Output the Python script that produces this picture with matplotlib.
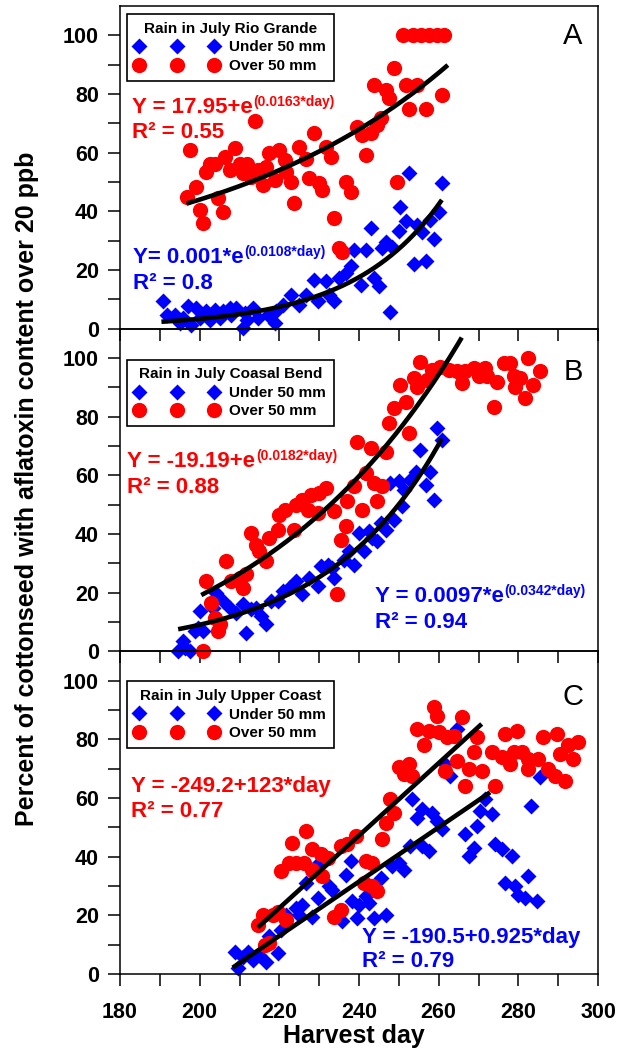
import numpy as np
import matplotlib
matplotlib.use('Agg')
import matplotlib.pyplot as plt
from matplotlib.ticker import MultipleLocator

plt.rcParams['font.family'] = ['Liberation Sans', 'DejaVu Sans']

BLUE = '#0000FF'
RED = '#FF0000'

# ---------------- Panel A : Rio Grande ----------------
a_under_day = [252.5, 260.8, 250.4, 251.7, 254.6, 257.9, 260.0, 255.8, 250.0, 258.8,
               242.9, 246.7, 245.8, 248.3, 238.8, 241.7, 253.8, 256.7, 237.9, 235.0,
               228.8, 231.7, 240.4, 243.8, 245.0, 247.9, 233.8, 232.5, 222.9, 226.7,
               225.0, 220.8, 219.2, 217.1, 213.3, 211.3, 210.8, 212.0, 214.6, 218.8,
               209.2, 207.5, 205.8, 203.8, 201.7, 199.2, 197.1, 190.8, 191.7, 193.8,
               195.0, 195.8, 197.9, 200.0, 202.5, 207.9, 205.0, 229.6, 236.7]
a_under_pct = [53.2, 49.8, 41.4, 36.8, 35.4, 37.1, 39.7, 33.1, 33.3, 30.6,
               34.2, 29.7, 27.4, 28.0, 26.9, 26.9, 22.1, 22.9, 21.2, 17.2,
               16.7, 16.1, 15.0, 17.2, 14.6, 5.6, 9.3, 11.6, 11.6, 11.6,
               8.2, 8.2, 5.9, 4.8, 7.0, 5.3, 0.2, 3.1, 3.6, 1.9,
               7.0, 7.0, 5.9, 6.5, 5.9, 7.0, 7.6, 9.3, 4.8, 4.8,
               1.9, 3.6, 1.4, 3.6, 3.1, 4.8, 3.6, 9.3, 18.9]
a_over_day = [251.0, 253.5, 255.5, 257.5, 259.5, 261.3,
              248.8, 243.8, 246.7, 247.5, 251.7, 254.6, 260.8, 252.5, 256.7,
              213.8, 245.4, 244.6, 239.6, 240.8, 242.9, 228.8,
              197.5, 208.8, 206.3, 203.8, 201.7, 207.5, 210.0, 212.0, 210.8, 214.6,
              216.7, 217.5, 220.0, 221.3, 221.7, 218.8, 215.8, 222.9, 225.0, 226.7,
              227.5, 230.0, 230.8, 231.7, 232.9, 236.7, 237.9, 241.7, 249.6,
              196.7, 199.2, 200.0, 200.8, 204.6, 205.8, 223.8, 233.8, 235.0, 235.8,
              202.5, 212.9]
a_over_pct = [100, 100, 100, 100, 100, 100,
              88.7, 83.0, 81.3, 78.5, 83.0, 83.0, 79.8, 75.0, 75.0,
              70.9, 71.7, 69.4, 68.8, 66.0, 66.6, 66.6,
              60.9, 61.5, 58.6, 56.3, 53.5, 54.1, 56.3, 56.3, 53.0, 54.0,
              55.2, 59.8, 60.9, 57.5, 53.5, 50.7, 49.0, 50.1, 62.0, 58.0,
              51.2, 49.5, 47.3, 62.0, 58.6, 50.1, 46.7, 59.2, 50.1,
              45.0, 48.4, 40.5, 35.9, 44.4, 39.9, 42.7, 37.6, 27.4, 26.3,
              56.3, 51.8]

# ---------------- Panel B : Coastal Bend ----------------
b_under_day = [259.6, 260.8, 255.4, 257.9, 256.7, 258.8, 254.2, 252.9, 251.3, 250.0,
               247.9, 250.8, 248.8, 246.7, 245.4, 242.5, 240.0, 244.6, 243.3, 241.3,
               238.8, 237.5, 236.3, 233.3, 232.1, 230.4, 233.8, 229.6, 227.5, 225.8,
               224.2, 222.5, 220.8, 219.6, 217.9, 216.7, 215.4, 214.2, 212.9, 211.7,
               210.8, 209.2, 207.5, 205.8, 204.2, 203.3, 200.0, 199.6, 198.8, 195.8,
               194.6, 197.5, 196.3, 200.8]
b_under_pct = [76.1, 72.1, 68.7, 61.3, 56.8, 51.7, 61.3, 58.5, 55.1, 57.9,
               57.4, 49.4, 44.9, 41.5, 43.8, 40.9, 40.4, 37.5, 38.7, 34.1,
               29.6, 34.1, 31.3, 28.5, 29.6, 29.0, 25.1, 22.2, 25.1, 19.4,
               23.9, 21.7, 20.5, 17.1, 17.1, 9.2, 12.0, 14.9, 14.3, 6.3,
               16.0, 13.2, 14.9, 17.1, 20.0, 14.9, 13.7, 8.0, 6.9, 3.5,
               0.1, 0.1, 1.2, 6.9]
b_over_day = [255.4, 258.3, 260.4, 262.5, 264.6, 265.8, 266.7, 268.8, 271.7, 270.0,
              272.1, 274.6, 276.3, 277.9, 278.8, 280.4, 279.2, 282.5, 283.8, 285.4,
              281.7, 273.8, 253.8, 254.6, 250.4, 257.1, 251.7, 248.8, 247.5, 252.5,
              239.6, 242.9, 246.7, 241.7, 243.8, 245.8, 238.8, 237.1, 240.8, 244.6,
              231.7, 230.0, 227.9, 225.8, 224.2, 221.3, 220.0, 227.1, 229.6, 233.8,
              236.7, 235.4, 223.8, 219.6, 217.5, 212.9, 214.2, 215.0, 216.7, 206.7,
              211.7, 210.0, 207.9, 201.7, 202.9, 203.8, 205.0, 204.6, 210.8, 200.8,
              234.6]
b_over_pct = [98.8, 95.9, 97.0, 95.9, 95.4, 91.4, 95.4, 96.5, 96.5, 93.7,
              93.7, 91.9, 98.2, 98.2, 93.7, 93.1, 90.2, 99.9, 90.8, 95.4,
              86.3, 83.4, 93.1, 90.2, 90.8, 92.5, 85.1, 82.9, 77.8, 74.4,
              71.5, 69.3, 68.1, 60.8, 57.4, 56.2, 56.2, 51.1, 48.3, 51.1,
              55.7, 54.0, 53.4, 51.7, 50.0, 48.3, 46.6, 48.3, 47.2, 47.7,
              42.6, 38.1, 41.5, 41.5, 38.7, 40.4, 36.4, 34.1, 30.7, 30.7,
              26.2, 25.1, 23.9, 23.9, 16.6, 11.5, 9.2, 6.9, 21.7, 0.1,
              19.4]

# ---------------- Panel C : Upper Coast ----------------
c_under_day = [264.6, 261.7, 262.9, 285.4, 283.3, 253.3, 255.8, 254.6, 258.3, 259.6,
               260.8, 271.7, 270.4, 273.3, 269.6, 266.7, 268.8, 267.5, 274.2, 275.8,
               278.3, 282.5, 276.7, 279.2, 280.0, 281.7, 284.6, 252.9, 255.8, 257.5,
               250.0, 251.3, 248.3, 245.4, 237.9, 236.7, 238.3, 240.0, 241.7, 242.5,
               243.8, 246.7, 239.6, 235.8, 233.3, 232.5, 230.0, 229.6, 226.7, 228.3,
               225.8, 224.2, 225.0, 221.7, 220.4, 219.6, 216.7, 215.0, 213.3, 212.1,
               210.8, 208.8, 209.6, 217.5]
c_under_pct = [83.6, 71.6, 67.6, 67.0, 57.3, 59.6, 56.2, 53.3, 55.0, 52.2,
               49.3, 59.6, 55.6, 54.5, 50.5, 47.6, 43.0, 40.2, 44.2, 42.5,
               40.2, 33.3, 31.0, 29.9, 27.1, 25.9, 24.8, 43.6, 43.6, 41.9,
               37.9, 35.6, 36.8, 32.8, 38.5, 33.9, 24.8, 23.6, 26.5, 24.2,
               19.1, 20.2, 19.1, 17.9, 28.8, 29.9, 37.9, 25.9, 31.0, 19.6,
               23.6, 22.5, 20.2, 20.2, 15.1, 7.1, 4.2, 6.5, 4.8, 7.6,
               5.9, 7.6, 1.9, 12.8]
c_over_day = [258.8, 259.6, 265.8, 254.6, 257.5, 260.0, 262.1, 263.8, 256.3, 269.6,
              268.8, 264.6, 261.7, 267.5, 270.8, 266.7, 274.2, 276.7, 279.6, 273.3,
              275.8, 277.9, 278.8, 280.8, 282.5, 285.0, 282.5, 286.3, 289.6, 287.5,
              289.2, 291.7, 290.4, 292.5, 295.0, 293.8, 250.0, 252.5, 251.3, 253.3,
              247.9, 248.8, 246.7, 245.8, 239.2, 237.1, 235.4, 226.7, 223.3, 228.3,
              230.4, 232.1, 222.5, 220.4, 224.2, 226.3, 228.3, 230.8, 241.7, 243.3,
              241.3, 243.3, 244.6, 235.4, 233.8, 219.6, 218.3, 221.7, 215.8, 214.6,
              217.5, 216.3]
c_over_pct = [91.0, 88.1, 87.6, 83.6, 83.0, 82.4, 80.7, 81.3, 77.9, 80.7,
              75.6, 72.7, 69.3, 69.9, 69.3, 64.2, 64.2, 81.8, 83.0, 75.6,
              73.9, 71.6, 75.6, 75.6, 73.3, 73.3, 69.9, 80.7, 81.8, 69.9,
              67.6, 65.9, 75.0, 77.9, 79.0, 73.3, 70.4, 71.6, 68.2, 67.6,
              59.6, 55.0, 51.6, 45.9, 47.0, 44.2, 43.6, 48.7, 44.7, 42.5,
              40.8, 39.6, 37.9, 35.0, 37.9, 37.9, 35.6, 33.3, 38.5, 37.9,
              31.0, 29.9, 28.2, 21.9, 19.6, 21.3, 20.2, 18.5, 20.2, 16.8,
              10.5, 9.9]

# regression curves: y = a + b*exp(c*day) (exp) or y = a + s*day (linear); day range
fit_a_over = (17.95, 1.0, 0.0163, 196.7, 262.3)
fit_a_under = (0.53, 3.47e-4, 0.045, 190.4, 260.8)
fit_b_over = (-19.19, 1.0, 0.0182, 200.4, 265.8)
fit_b_under = (0.0, 0.0097, 0.0342, 194.6, 260.8)
fit_c_over = (-249.2, 1.235, 214.6, 270.8)
fit_c_under = (-190.5, 0.925, 208.3, 272.9)

titles = ['Rain in July Rio Grande', 'Rain in July Coasal Bend', 'Rain in July Upper Coast']
letters = ['A', 'B', 'C']
letter_y = [99.7, 95.2, 94.5]
legend_top = [0.975, 0.904, 0.907]

# equation texts: (main, superscript, x, y baseline), R2 text (x, y)
eq_over = [('Y = 17.95+e', '(0.0163*day)', 182.9, 73.4, 'R\u00b2 = 0.55', 64.9),
           ('Y = -19.19+e', '(0.0182*day)', 181.8, 62.8, 'R\u00b2 = 0.88', 54.0),
           ('Y = -249.2+123*day', '', 182.7, 62.1, 'R\u00b2 = 0.77', 53.5)]
eq_under = [('Y= 0.001*e', '(0.0108*day)', 183.3, 22.3, 'R\u00b2 = 0.8', 13.5),
            ('Y = 0.0097*e', '(0.0342*day)', 244.0, 16.8, 'R\u00b2 = 0.94', 8.0),
            ('Y = -190.5+0.925*day', '', 240.8, 10.7, 'R\u00b2 = 0.79', 2.5)]

W, H = 628, 1050
fig = plt.figure(figsize=(W / 100, H / 100), dpi=100)
ax_left, ax_right = 120 / W, 598 / W
ax_top_px, ax_bot_px = 6, 974
panel_h = (ax_bot_px - ax_top_px) / 3


def exp_curve(p):
    a, b, c, d0, d1 = p
    d = np.linspace(d0, d1, 200)
    return d, a + b * np.exp(c * d)


def lin_curve(p):
    a, s, d0, d1 = p
    d = np.linspace(d0, d1, 200)
    return d, a + s * d


data = [
    (a_under_day, a_under_pct, a_over_day, a_over_pct, exp_curve(fit_a_under), exp_curve(fit_a_over)),
    (b_under_day, b_under_pct, b_over_day, b_over_pct, exp_curve(fit_b_under), exp_curve(fit_b_over)),
    (c_under_day, c_under_pct, c_over_day, c_over_pct, lin_curve(fit_c_under), lin_curve(fit_c_over)),
]

for i in range(3):
    top_px = ax_top_px + i * panel_h
    bottom = 1 - (top_px + panel_h) / H
    ax = fig.add_axes([ax_left, bottom, ax_right - ax_left, panel_h / H])
    ax.set_facecolor('none')
    ud, up, od, op, ucurve, ocurve = data[i]
    ax.plot(ud, up, ls='none', marker='D', ms=8.5, color=BLUE, mec='none',
            clip_on=False, label='Under 50 mm', zorder=2)
    ax.plot(od, op, ls='none', marker='o', ms=11, color=RED, mec='none',
            clip_on=False, label='Over 50 mm', zorder=3)
    ax.plot(*ucurve, color='black', lw=3.3, solid_capstyle='butt', zorder=4)
    ax.plot(*ocurve, color='black', lw=3.3, solid_capstyle='butt', zorder=4)

    ax.set_xlim(180, 300)
    ax.set_ylim(0, 110)
    ax.xaxis.set_major_locator(MultipleLocator(20))
    ax.xaxis.set_minor_locator(MultipleLocator(10))
    ax.set_yticks([0, 20, 40, 60, 80, 100])
    ax.set_yticks([10, 30, 50, 70, 90], minor=True)
    ax.tick_params(axis='both', which='both', direction='out', length=8.6, width=1.1,
                   top=False, right=False)
    ax.tick_params(axis='y', which='major', pad=6.5, labelsize=15.5)
    ax.tick_params(axis='x', which='major', pad=11.5, labelsize=15.5)
    for lab in ax.get_xticklabels() + ax.get_yticklabels():
        lab.set_fontweight('bold')
    if i < 2:
        ax.tick_params(axis='x', which='both', labelbottom=False)
    for s in ax.spines.values():
        s.set_linewidth(1.1)

    leg = ax.legend(loc='upper left', bbox_to_anchor=(0.0146, legend_top[i]), borderaxespad=0,
                    numpoints=3, title=titles[i], prop=dict(weight='bold', size=11),
                    title_fontproperties=dict(weight='bold', size=11), frameon=True,
                    fancybox=False, edgecolor='black', framealpha=1, handlelength=5.5,
                    handletextpad=0.7, borderpad=0.5, labelspacing=0.3)
    leg.get_frame().set_linewidth(1.2)
    leg.set_zorder(5)

    ax.text(293.75, letter_y[i], letters[i], fontsize=21, fontweight='normal',
            ha='center', va='center')

    for (main, sup, x, y, r2, y2), col in ((eq_over[i], RED), (eq_under[i], BLUE)):
        t = ax.text(x, y, main, color=col, fontsize=16, fontweight='bold',
                    ha='left', va='baseline', zorder=6)
        if sup:
            ax.annotate(sup, xy=(1, 1), xycoords=t, xytext=(0.5, 1.5),
                        textcoords='offset points', color=col, fontsize=10,
                        fontweight='bold', ha='left', va='top', zorder=6)
        ax.text(x, y2, r2, color=col, fontsize=16, fontweight='bold',
                ha='left', va='baseline', zorder=6)

fig.text(27 / W, 1 - 489 / H, 'Percent of cottonseed with aflatoxin content over 20 ppb',
         rotation=90, fontsize=18, fontweight='bold', ha='center', va='center')
fig.text(353.5 / W, 1 - 1043 / H, 'Harvest day', fontsize=18, fontweight='bold',
         ha='center', va='baseline')

fig.savefig('out.png', dpi=100)
